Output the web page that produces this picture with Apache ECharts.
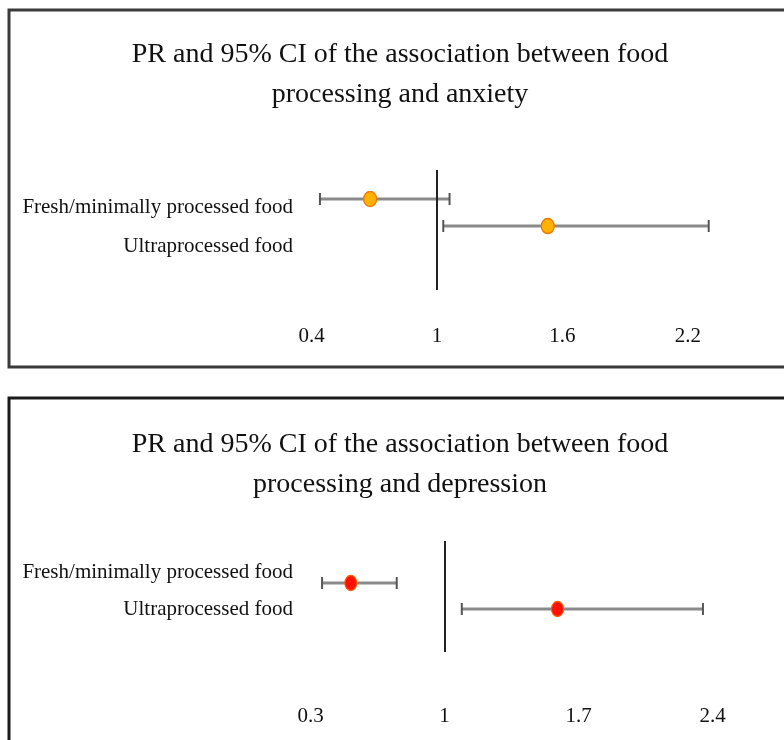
<!DOCTYPE html>
<html>
<head>
<meta charset="utf-8">
<script src="https://cdn.jsdelivr.net/npm/echarts@6/dist/echarts.min.js"></script>
<style>
html,body{margin:0;padding:0;background:#fff;}
#chart{width:784px;height:740px;}
</style>
</head>
<body>
<div id="chart"></div>
<script>
// ---- data ----
const categories = ['Fresh/minimally processed food', 'Ultraprocessed food'];
const anxietyTitle = 'PR and 95% CI of the association between food\nprocessing and anxiety';
const depressionTitle = 'PR and 95% CI of the association between food\nprocessing and depression';
const anxietyPR = [0.68, 1.53];
const anxietyLow = [0.44, 1.03];
const anxietyHigh = [1.06, 2.30];
const depressionPR = [0.51, 1.59];
const depressionLow = [0.36, 1.09];
const depressionHigh = [0.75, 2.35];
const anxietyTickMin = 0.4, anxietyTickStep = 0.6;
const depressionTickMin = 0.3, depressionTickStep = 0.7;
const referenceValue = 1;

// ---- build ----
const FONT = 'Liberation Serif';
const chart = echarts.init(document.getElementById('chart'), null, {renderer: 'canvas'});

function ciData(low, high) { return low.map((l, i) => [l, high[i], i]); }
function ptData(pr) { return pr.map((v, i) => [v, i]); }

function renderCI(params, api) {
  const i = api.value(2);
  const a = api.coord([api.value(0), i]);
  const b = api.coord([api.value(1), i]);
  const cap = 6;
  return {
    type: 'group',
    children: [
      {type: 'line', shape: {x1: a[0], y1: a[1], x2: b[0], y2: b[1]}, style: {stroke: '#8a8a8a', lineWidth: 3}},
      {type: 'line', shape: {x1: a[0], y1: a[1] - cap, x2: a[0], y2: a[1] + cap}, style: {stroke: '#555', lineWidth: 2}},
      {type: 'line', shape: {x1: b[0], y1: b[1] - cap, x2: b[0], y2: b[1] + cap}, style: {stroke: '#555', lineWidth: 2}}
    ]
  };
}

const axisLabelStyle = {fontFamily: FONT, fontSize: 21, color: '#111'};

const option = {
  animation: false,
  backgroundColor: '#fff',
  title: [
    {text: anxietyTitle, left: 395, top: 30, textAlign: 'center',
     textStyle: {fontFamily: FONT, fontSize: 28, fontWeight: 'normal', color: '#111', lineHeight: 40}},
    {text: depressionTitle, left: 395, top: 420, textAlign: 'center',
     textStyle: {fontFamily: FONT, fontSize: 28, fontWeight: 'normal', color: '#111', lineHeight: 40}}
  ],
  graphic: [
    {type: 'rect', shape: {x: 9, y: 10, width: 800, height: 357}, style: {fill: 'none', stroke: '#3a3a3a', lineWidth: 3}, z: 0},
    {type: 'rect', shape: {x: 9, y: 398, width: 800, height: 400}, style: {fill: 'none', stroke: '#1a1a1a', lineWidth: 3}, z: 0}
  ],
  grid: [
    {left: 311.6, top: 170, width: 501.6, height: 120, outerBoundsMode: 'none'},
    {left: 300, top: 187.5, width: 10, height: 78, outerBoundsMode: 'none'},
    {left: 310.6, top: 541, width: 535.9, height: 111, outerBoundsMode: 'none'},
    {left: 300, top: 553.5, width: 10, height: 74, outerBoundsMode: 'none'}
  ],
  xAxis: [
    {gridIndex: 0, type: 'value', min: anxietyTickMin, max: 2.8, interval: anxietyTickStep,
     axisLine: {show: false}, axisTick: {show: false}, splitLine: {show: false},
     axisLabel: Object.assign({margin: 36, showMaxLabel: false}, axisLabelStyle)},
    {gridIndex: 1, type: 'value', show: false},
    {gridIndex: 2, type: 'value', min: depressionTickMin, max: 3.1, interval: depressionTickStep,
     axisLine: {show: false}, axisTick: {show: false}, splitLine: {show: false},
     axisLabel: Object.assign({margin: 54, showMaxLabel: false}, axisLabelStyle)},
    {gridIndex: 3, type: 'value', show: false}
  ],
  yAxis: [
    {gridIndex: 0, type: 'value', inverse: true, min: -1.074, max: 3.37, show: false},
    {gridIndex: 1, type: 'category', inverse: true, data: categories,
     axisLine: {show: false}, axisTick: {show: false}, splitLine: {show: false},
     axisLabel: Object.assign({margin: 7}, axisLabelStyle)},
    {gridIndex: 2, type: 'value', inverse: true, min: -1.615, max: 2.654, show: false},
    {gridIndex: 3, type: 'category', inverse: true, data: categories,
     axisLine: {show: false}, axisTick: {show: false}, splitLine: {show: false},
     axisLabel: Object.assign({margin: 7}, axisLabelStyle)}
  ],
  series: [
    {type: 'custom', xAxisIndex: 0, yAxisIndex: 0, renderItem: renderCI,
     data: ciData(anxietyLow, anxietyHigh), encode: {x: [0, 1], y: 2}, z: 2,
     markLine: {silent: true, symbol: 'none', label: {show: false},
       lineStyle: {color: '#222', width: 2, type: 'solid'}, data: [{xAxis: referenceValue}]}},
    {type: 'scatter', xAxisIndex: 0, yAxisIndex: 0, data: ptData(anxietyPR), symbol: 'circle', symbolSize: [13, 15],
     itemStyle: {color: '#FFB300', borderColor: '#F07A00', borderWidth: 1.5, opacity: 1}, z: 5},
    {type: 'custom', xAxisIndex: 2, yAxisIndex: 2, renderItem: renderCI,
     data: ciData(depressionLow, depressionHigh), encode: {x: [0, 1], y: 2}, z: 2,
     markLine: {silent: true, symbol: 'none', label: {show: false},
       lineStyle: {color: '#222', width: 2, type: 'solid'}, data: [{xAxis: referenceValue}]}},
    {type: 'scatter', xAxisIndex: 2, yAxisIndex: 2, data: ptData(depressionPR), symbol: 'circle', symbolSize: [12, 15],
     itemStyle: {color: '#FF1000', borderColor: '#FF5A00', borderWidth: 1.2, opacity: 1}, z: 5}
  ]
};
chart.setOption(option);
</script>
</body>
</html>
